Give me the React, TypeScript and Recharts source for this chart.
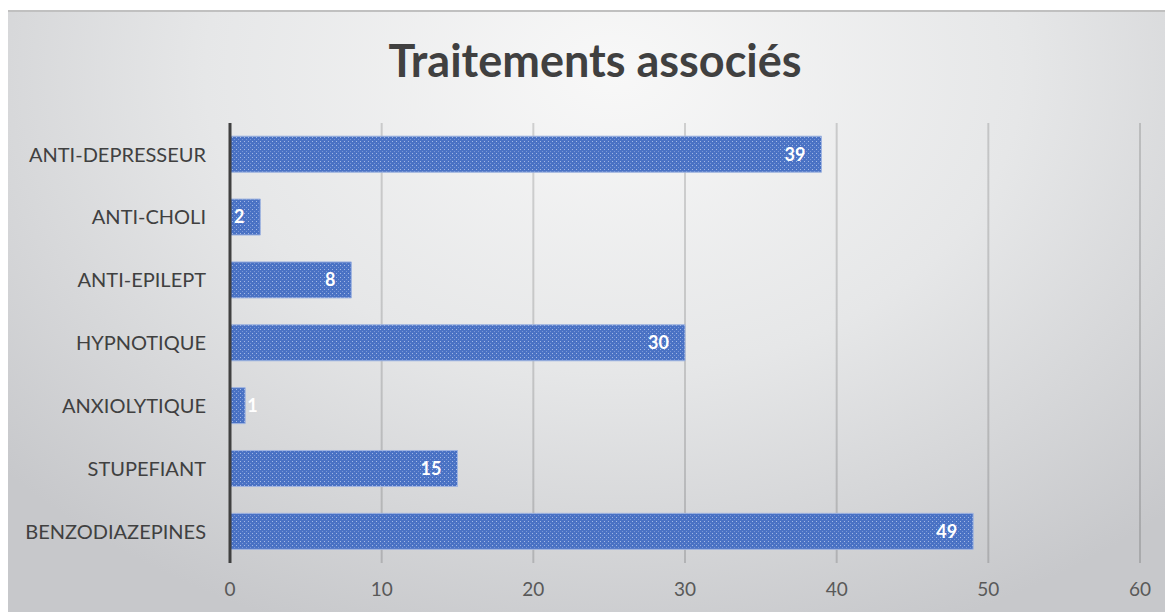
import { BarChart, Bar, XAxis, YAxis, CartesianGrid, LabelList } from "recharts";

const categories = [
  "ANTI-DEPRESSEUR",
  "ANTI-CHOLI",
  "ANTI-EPILEPT",
  "HYPNOTIQUE",
  "ANXIOLYTIQUE",
  "STUPEFIANT",
  "BENZODIAZEPINES",
];
const counts = [39, 2, 8, 30, 1, 15, 49];
const xTicks = [0, 10, 20, 30, 40, 50, 60];

const data = categories.map((name, i) => ({ name, value: counts[i] }));

const FONT = "Lato, 'Noto Sans', sans-serif";

function ValueLabel(props: any) {
  const { x, y, width, height, value } = props;
  const small = width < 30;
  return (
    <text
      x={small ? x + width + 2 : x + width - 16}
      y={y + height / 2}
      dy="0.35em"
      textAnchor={small ? "start" : "end"}
      fill="#ffffff"
      fontWeight={700}
      fontSize={18}
      fontFamily={FONT}
    >
      {value}
    </text>
  );
}

export default function App() {
  return (
    <div
      style={{
        position: "relative",
        marginLeft: -1,
        marginTop: 2,
        width: 1166,
        height: 602,
        borderTop: "2px solid #c0c0c0",
        boxSizing: "border-box",
        background:
          "radial-gradient(ellipse 70% 100% at 52% 10%, #f8f8f8 0%, #e6e7e8 50%, #c7c8cb 100%)",
        fontFamily: FONT,
      }}
    >
      <div
        style={{
          position: "absolute",
          left: 0,
          width: 1176,
          top: 21,
          textAlign: "center",
          fontSize: 45,
          fontWeight: 700,
          color: "#404040",
        }}
      >
        Traitements associés
      </div>
      <BarChart
        width={1166}
        height={600}
        data={data}
        layout="vertical"
        margin={{ top: 111, right: 33, bottom: 9, left: 0 }}
        barCategoryGap="21%"
      >
        <defs>
          <pattern id="dots" width="4" height="4" patternUnits="userSpaceOnUse">
            <rect width="4" height="4" fill="#4a72c4" />
            <rect x="1" y="1" width="1" height="1" fill="#a3b8e5" />
            <rect x="3" y="3" width="1" height="1" fill="#7896d6" />
          </pattern>
        </defs>
        <CartesianGrid horizontal={false} stroke="#000" strokeOpacity={0.15} strokeWidth={2} />
        <XAxis
          type="number"
          domain={[0, 60]}
          ticks={xTicks}
          axisLine={false}
          tickLine={false}
          tickSize={0}
          tickMargin={20}
          height={40}
          tick={{ fill: "#595959", fontSize: 19, fontFamily: FONT }}
        />
        <YAxis
          type="category"
          dataKey="name"
          width={223}
          axisLine={{ stroke: "#404040", strokeWidth: 3 }}
          tickLine={false}
          tickSize={0}
          tickMargin={24}
          tick={{ fill: "#404040", fontSize: 20, fontFamily: FONT }}
        />
        <Bar
          dataKey="value"
          fill="url(#dots)"
          stroke="#9fb4e0"
          strokeWidth={1}
          isAnimationActive={false}
        >
          <LabelList dataKey="value" content={ValueLabel} />
        </Bar>
      </BarChart>
    </div>
  );
}
